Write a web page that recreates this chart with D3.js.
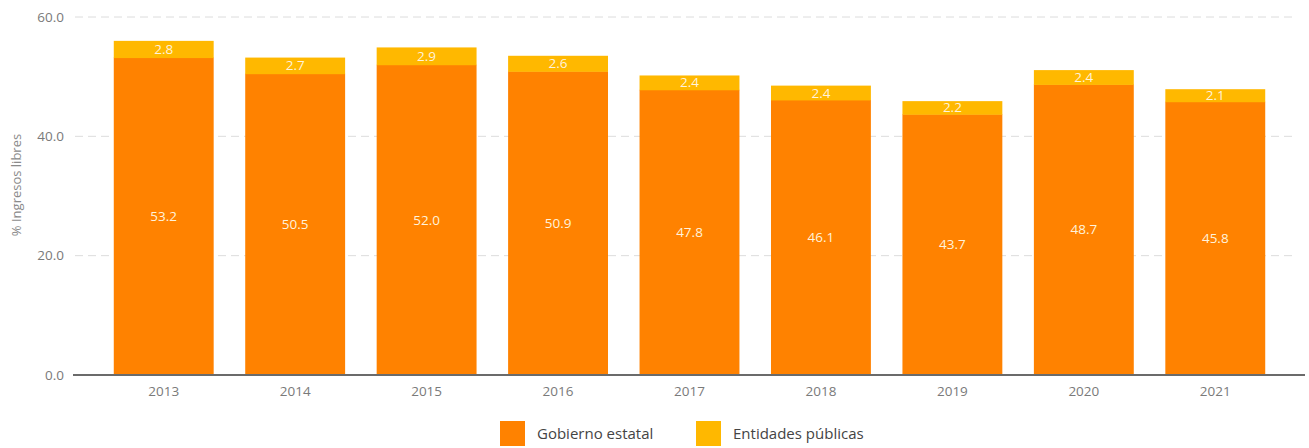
<!DOCTYPE html>
<html>
<head>
<meta charset="utf-8">
<script src="https://cdn.jsdelivr.net/npm/d3@7"></script>
<style>
  body { margin: 0; background: #fff; }
  text { font-family: "Open Sans", "Noto Sans", sans-serif; }
</style>
</head>
<body>
<div id="chart"></div>
<script>
// Data
const years = ["2013", "2014", "2015", "2016", "2017", "2018", "2019", "2020", "2021"];
const gobierno = [53.2, 50.5, 52.0, 50.9, 47.8, 46.1, 43.7, 48.7, 45.8];
const entidades = [2.8, 2.7, 2.9, 2.6, 2.4, 2.4, 2.2, 2.4, 2.1];
const yTicks = [0, 20, 40, 60];
const seriesNames = ["Gobierno estatal", "Entidades públicas"];
const colors = ["#ff8200", "#ffb800"];

const width = 1309, height = 448;

const svg = d3.select("#chart").append("svg")
    .attr("width", width)
    .attr("height", height);

// Scales
const x = d3.scaleBand()
    .domain(years)
    .range([98, 1281])
    .paddingInner(0.24)
    .paddingOuter(0.12);

const y = d3.scaleLinear()
    .domain([0, 60])
    .range([375, 17]);

// Gridlines
svg.append("g")
    .selectAll("line")
    .data(yTicks.filter(d => d > 0))
    .enter().append("line")
    .attr("x1", 75).attr("x2", 1295)
    .attr("y1", d => y(d)).attr("y2", d => y(d))
    .attr("stroke", "#dcdcdc")
    .attr("stroke-width", 1)
    .attr("stroke-dasharray", "8,5");

// Y axis labels
const yAxis = svg.append("g")
    .attr("transform", "translate(73,0)")
    .call(d3.axisLeft(y).tickValues(yTicks).tickFormat(d3.format(".1f")).tickSize(0).tickPadding(9));
yAxis.select(".domain").remove();
yAxis.selectAll("text")
    .attr("fill", "#7a7a7a")
    .attr("font-size", "13.5px")
    .style("font-family", "'Open Sans', sans-serif");

// Stacked data
const stackData = years.map((yr, i) => ({ year: yr, g: gobierno[i], e: entidades[i] }));
const stack = d3.stack().keys(["g", "e"])(stackData);

const layers = svg.append("g")
    .selectAll("g")
    .data(stack)
    .enter().append("g")
    .attr("fill", (d, i) => colors[i]);

layers.selectAll("rect")
    .data(d => d)
    .enter().append("rect")
    .attr("x", d => x(d.data.year))
    .attr("width", x.bandwidth())
    .attr("y", d => y(d[1]))
    .attr("height", d => y(d[0]) - y(d[1]) + 0.5);

// Value labels
layers.selectAll("text")
    .data(d => d)
    .enter().append("text")
    .attr("x", d => x(d.data.year) + x.bandwidth() / 2)
    .attr("y", d => (y(d[0]) + y(d[1])) / 2)
    .attr("dy", "0.35em")
    .attr("text-anchor", "middle")
    .attr("fill", "#fff3dc")
    .attr("font-size", "13.5px")
    .text(d => d3.format(".1f")(d[1] - d[0]));

// X axis
const xAxis = svg.append("g")
    .attr("transform", `translate(0,${y(0)})`)
    .call(d3.axisBottom(x).tickSize(0).tickPadding(11));
xAxis.select(".domain")
    .attr("d", "M73,0H1305")
    .attr("stroke", "#6b6b6b")
    .attr("stroke-width", 2);
xAxis.selectAll("text")
    .attr("fill", "#7a7a7a")
    .attr("font-size", "13.5px")
    .style("font-family", "'Open Sans', sans-serif");

// Y-axis title
svg.append("text")
    .attr("transform", "translate(21,185) rotate(-90)")
    .attr("text-anchor", "middle")
    .attr("fill", "#8a8a8a")
    .attr("font-size", "13px")
    .text("% Ingresos libres");

// Legend
const legendX = [500, 696];
const legend = svg.append("g");
seriesNames.forEach((name, i) => {
    legend.append("rect")
        .attr("x", legendX[i])
        .attr("y", 421)
        .attr("width", 25)
        .attr("height", 25)
        .attr("fill", colors[i]);
    legend.append("text")
        .attr("x", legendX[i] + 37)
        .attr("y", 439)
        .attr("fill", "#444")
        .attr("font-size", "15px")
        .text(name);
});
</script>
</body>
</html>
